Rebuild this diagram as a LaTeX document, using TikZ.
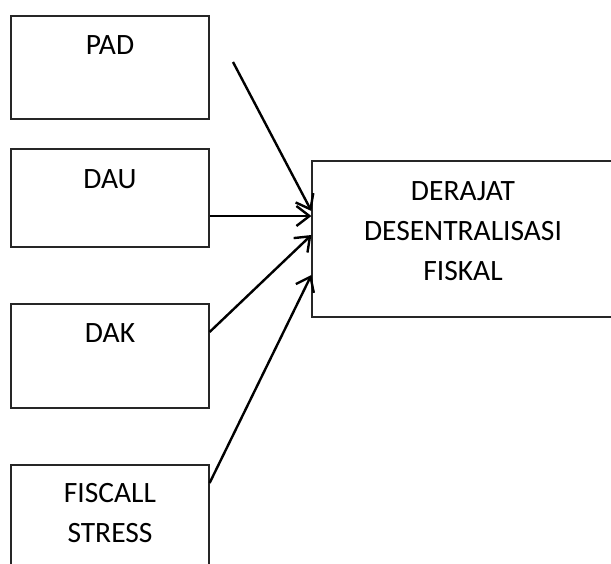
\documentclass[tikz,border=0pt]{standalone}
\usepackage{fontspec}
\setmainfont{Carlito}
\usetikzlibrary{arrows.meta}
\begin{document}
\begin{tikzpicture}[x=1pt,y=-1pt,
  box/.style={draw=black!85, line width=1.2pt, rectangle, inner sep=0pt},
  lbl/.style={align=center, font=\fontsize{29.5}{40}\selectfont, inner sep=0pt},
  arr/.style={line width=2.4pt, -{Straight Barb[length=13pt,width=20pt,line width=2.4pt]}}]
\useasboundingbox (0,0) rectangle (611,563);
\clip (0,0) rectangle (611,563);
\node[box, minimum width=198pt, minimum height=103pt] (pad) at (110,67.5) {};
\node[lbl] (padt) at (110,45) {PAD};
\node[box, minimum width=198pt, minimum height=98pt] (dau) at (110,198) {};
\node[lbl] (daut) at (110,179) {DAU};
\node[box, minimum width=198pt, minimum height=104pt] (dak) at (110,356) {};
\node[lbl] (dakt) at (110,333) {DAK};
\node[box, minimum width=198pt, minimum height=110pt] (fs) at (110,520) {};
\node[lbl] (fst) at (110,513.5) {FISCALL\\STRESS};
\node[box, minimum width=310pt, minimum height=156pt] (der) at (467,239) {};
\node[lbl] (dert) at (463,231) {DERAJAT\\DESENTRALISASI\\FISKAL};
\coordinate (s1) at (233,62);
\coordinate (t1) at (der.west |- 0,211);
\coordinate (s2) at (dau.east |- 0,216);
\coordinate (t2) at (der.west |- 0,216);
\coordinate (s3) at (dak.east |- 0,332);
\coordinate (t3) at (der.west |- 0,235);
\coordinate (s4) at (fs.east |- 0,483);
\coordinate (t4) at (der.west |- 0,275);
\draw[arr] (s1) -- (t1);
\draw[arr] (s2) -- (t2);
\draw[arr] (s3) -- (t3);
\draw[arr] (s4) -- (t4);
\end{tikzpicture}
\end{document}
